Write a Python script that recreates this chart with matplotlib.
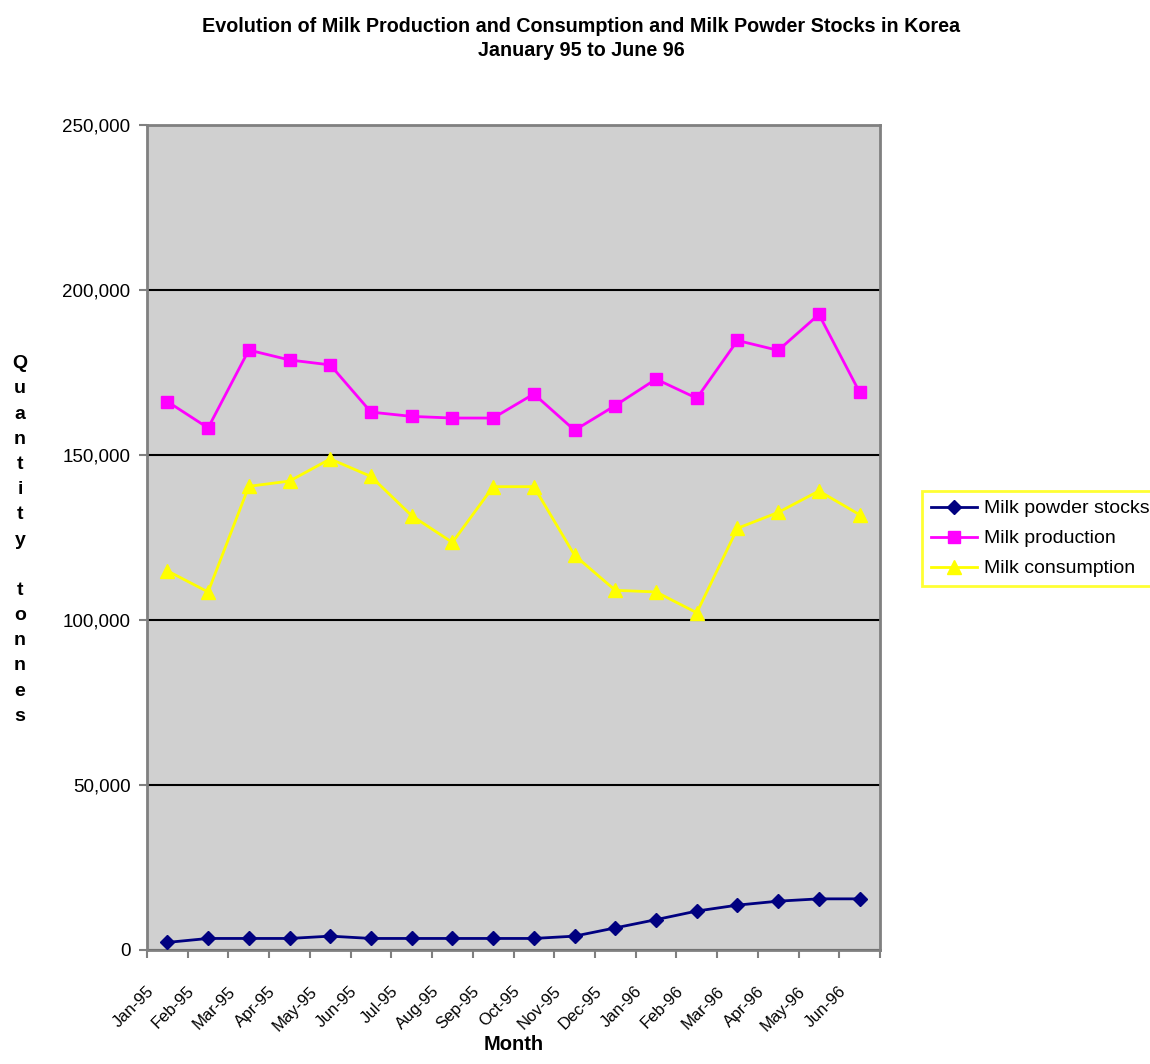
import matplotlib
matplotlib.use("Agg")
import matplotlib.pyplot as plt
import matplotlib.transforms as mtransforms
from matplotlib.ticker import FuncFormatter
from matplotlib import font_manager
import numpy as np

plt.rcParams['font.family'] = ['Liberation Sans', 'DejaVu Sans']

months = ["Jan-95", "Feb-95", "Mar-95", "Apr-95", "May-95", "Jun-95", "Jul-95",
          "Aug-95", "Sep-95", "Oct-95", "Nov-95", "Dec-95", "Jan-96", "Feb-96",
          "Mar-96", "Apr-96", "May-96", "Jun-96"]
powder_stocks = [2300, 3500, 3500, 3500, 4200, 3500, 3500, 3500, 3500, 3500,
                 4200, 6700, 9200, 11800, 13600, 14800, 15500, 15500]
production = [166200, 158200, 181800, 178800, 177300, 163000, 161700, 161200, 161200,
              168500, 157500, 165000, 173000, 167200, 184700, 181700, 192600, 169000]
consumption = [114900, 108500, 140500, 142100, 148800, 143500, 131600, 123500, 140400,
               140400, 119600, 109000, 108500, 102200, 127800, 132600, 139100, 131900]
y_ticks = [0, 50000, 100000, 150000, 200000, 250000]

installed = {f.name for f in font_manager.fontManager.ttflist}
narrow = 'Liberation Sans Narrow' in installed

W, H = 1150, 1064
fig = plt.figure(figsize=(W / 100, H / 100), dpi=100)
ax = fig.add_axes([147 / W, 1 - 950 / H, (880 - 147) / W, (950 - 125) / H])
ax.set_facecolor('#D0D0D0')

x = np.arange(len(months)) + 0.5
ax.plot(x, powder_stocks, color='#000080', lw=2, marker='D', markersize=7.5,
        label='Milk powder stocks', zorder=5)
ax.plot(x, production, color='#FF00FF', lw=2, marker='s', markersize=8.2,
        label='Milk production', zorder=5)
ax.plot(x, consumption, color='#FFFF00', lw=2, marker='^', markersize=10.5,
        label='Milk consumption', zorder=5)

ax.set_xlim(0, len(months))
ax.set_ylim(0, 250000)
ax.set_yticks(y_ticks)
ax.yaxis.set_major_formatter(FuncFormatter(lambda v, p: f"{int(v):,}"))
ax.grid(axis='y', color='black', lw=1.5)
ax.set_axisbelow(True)

ax.set_xticks(np.arange(len(months) + 1))
ax.set_xticklabels([])
ax.set_xticks(x, minor=True)
if narrow:
    xl_font = dict(family=['Liberation Sans Narrow', 'Liberation Sans'], fontsize=14)
else:
    xl_font = dict(family=['Liberation Sans'], fontsize=12)
ax.set_xticklabels(months, minor=True, rotation=45, ha='right', va='center',
                   rotation_mode='anchor', **xl_font)
ax.tick_params(axis='x', which='minor', length=0, pad=28)
ax.tick_params(axis='both', which='major', direction='out', length=6, width=1.5,
               color='#808080', labelsize=13.5)
ax.tick_params(axis='y', pad=6)

offset = mtransforms.ScaledTranslation(-16 / 100, 0, fig.dpi_scale_trans)
for lbl in ax.get_xticklabels(minor=True):
    lbl.set_transform(lbl.get_transform() + offset)

for s in ax.spines.values():
    s.set_color('#808080')
    s.set_linewidth(2)

fig.text(581 / W, 1 - 27 / H,
         "Evolution of Milk Production and Consumption and Milk Powder Stocks in Korea",
         ha='center', va='center', fontsize=14.2, fontweight='bold')
fig.text(581 / W, 1 - 51 / H, "January 95 to June 96",
         ha='center', va='center', fontsize=14.2, fontweight='bold')

fig.text(20 / W, 1 - 540 / H, "\n".join("Quantity tonnes"), ha='center', va='center',
         fontsize=14, fontweight='bold', linespacing=1.63)
fig.text(514 / W, 1 - 1045 / H, "Month", ha='center', va='center',
         fontsize=14.5, fontweight='bold')

leg = fig.legend(loc='upper left', bbox_to_anchor=(922 / W, 1 - 491 / H),
                 frameon=True, fancybox=False, fontsize=14, handlelength=2.4,
                 handletextpad=0.36, borderpad=0.45, labelspacing=0.64,
                 borderaxespad=0)
leg.get_frame().set_edgecolor('#FFFF00')
leg.get_frame().set_linewidth(2)
leg.get_frame().set_facecolor('white')

fig.savefig('out.png', dpi=100)
